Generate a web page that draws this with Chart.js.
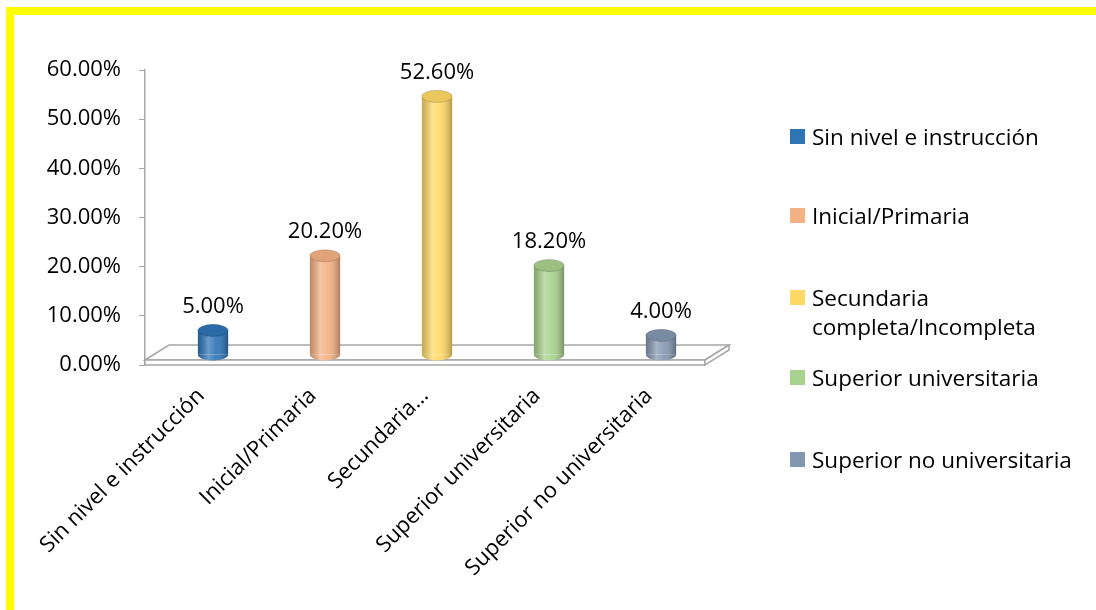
<!DOCTYPE html>
<html>
<head>
<meta charset="utf-8">
<script src="https://cdn.jsdelivr.net/npm/chart.js@4.4.0/dist/chart.umd.min.js"></script>
<style>
  html, body { margin: 0; padding: 0; background: #fff; }
  #wrap { position: relative; width: 1096px; height: 610px; overflow: hidden; font-family: "Open Sans", sans-serif; }
  #frame { position: absolute; left: 6px; top: 7px; width: 1200px; height: 700px;
           border-top: 8px solid #ffff00; border-left: 8px solid #ffff00; box-sizing: border-box; }
  canvas { position: absolute; left: 0; top: 0; }
  .leg { position: absolute; left: 790px; font-size: 22.5px; line-height: 29px; color: #000; white-space: nowrap; }
  .leg span.sw { position: absolute; left: 0; top: 7px; width: 15px; height: 15px; }
  .leg span.tx { display: block; margin-left: 22px; }
</style>
</head>
<body>
<div id="wrap">
  <canvas id="c" width="1096" height="610"></canvas>
  <div id="frame"></div>
</div>
<script>
const categories = ['Sin nivel e instrucción', 'Inicial/Primaria', 'Secundaria completa/Incompleta', 'Superior universitaria', 'Superior no universitaria'];
const values = [5.0, 20.2, 52.6, 18.2, 4.0];
const colors = ['#2e75b6', '#f4b183', '#ffd966', '#a9d18e', '#8497b0'];
const legendLines = [['Sin nivel e instrucción'], ['Inicial/Primaria'], ['Secundaria', 'completa/Incompleta'], ['Superior universitaria'], ['Superior no universitaria']];
const legendTops = [122, 201, 283, 363, 445];

const FONT = '"Open Sans"';
const DX = 12, DY = 10; // depth offset of the bars in the 3D floor

// legend
const wrap = document.getElementById('wrap');
legendLines.forEach((lines, i) => {
  const d = document.createElement('div');
  d.className = 'leg';
  d.style.top = legendTops[i] + 'px';
  d.innerHTML = '<span class="sw" style="background:' + colors[i] + '"></span><span class="tx">' + lines.join('<br>') + '</span>';
  wrap.appendChild(d);
});

const cylinders = {
  id: 'cylinders',
  beforeDatasetsDraw(chart) {
    const { ctx, chartArea: a } = chart;
    const fl = a.left, fr = a.right, fb = a.bottom;
    ctx.save();
    ctx.strokeStyle = '#a6a6a6';
    ctx.lineWidth = 1.5;
    ctx.fillStyle = '#fff';
    // floor slab: top face
    ctx.beginPath();
    ctx.moveTo(fl, fb - 5);
    ctx.lineTo(fl + 2 * DX, fb - 2 * DY);
    ctx.lineTo(fr + 2 * DX, fb - 2 * DY);
    ctx.lineTo(fr, fb - 5);
    ctx.closePath();
    ctx.fill(); ctx.stroke();
    // front face
    ctx.beginPath();
    ctx.rect(fl, fb - 5, fr - fl, 5);
    ctx.fill(); ctx.stroke();
    // right face
    ctx.beginPath();
    ctx.moveTo(fr, fb - 5);
    ctx.lineTo(fr + 2 * DX, fb - 2 * DY);
    ctx.lineTo(fr + 2 * DX, fb - 2 * DY + 5);
    ctx.lineTo(fr, fb);
    ctx.closePath();
    ctx.fill(); ctx.stroke();
    ctx.restore();
    ctx.save();
    ctx.translate(DX, -DY);
  },
  afterDatasetsDraw(chart) {
    const ctx = chart.ctx;
    const meta = chart.getDatasetMeta(0);
    meta.data.forEach((bar, i) => {
      const w = bar.width, x0 = bar.x - w / 2, top = bar.y, base = bar.base, ry = w * 0.2;
      const g = ctx.createLinearGradient(x0, 0, x0 + w, 0);
      g.addColorStop(0, 'rgba(0,0,0,0.22)');
      g.addColorStop(0.35, 'rgba(255,255,255,0.28)');
      g.addColorStop(0.6, 'rgba(255,255,255,0.08)');
      g.addColorStop(1, 'rgba(0,0,0,0.3)');
      // bottom rounding
      ctx.beginPath();
      ctx.ellipse(bar.x, base, w / 2, ry, 0, 0, Math.PI);
      ctx.fillStyle = colors[i]; ctx.fill();
      ctx.fillStyle = g; ctx.fill();
      ctx.fillStyle = g;
      ctx.fillRect(x0, top, w, base - top);
      // top cap
      ctx.beginPath();
      ctx.ellipse(bar.x, top, w / 2, ry, 0, 0, 2 * Math.PI);
      ctx.fillStyle = colors[i]; ctx.fill();
      ctx.fillStyle = 'rgba(0,0,0,0.08)'; ctx.fill();
      ctx.strokeStyle = 'rgba(0,0,0,0.15)'; ctx.lineWidth = 1; ctx.stroke();
    });
    ctx.restore();
    // value labels
    ctx.save();
    ctx.font = '22px ' + FONT;
    ctx.fillStyle = '#000';
    ctx.textAlign = 'center';
    ctx.textBaseline = 'middle';
    meta.data.forEach((bar, i) => {
      ctx.fillText(values[i].toFixed(2) + '%', bar.x + DX, bar.y - DY - 24);
    });
    ctx.restore();
  }
};

new Chart(document.getElementById('c'), {
  type: 'bar',
  data: {
    labels: categories,
    datasets: [{
      data: values,
      backgroundColor: colors,
      borderWidth: 0,
      barPercentage: 0.27,
      categoryPercentage: 1
    }]
  },
  options: {
    responsive: false,
    animation: false,
    layout: { padding: { left: 0, right: 391, top: 70, bottom: 0 } },
    plugins: { legend: { display: false }, tooltip: { enabled: false } },
    scales: {
      x: {
        afterFit: s => { s.height = 245; },
        grid: { display: false },
        border: { display: false },
        ticks: {
          color: '#000',
          font: { family: FONT, size: 22 },
          minRotation: 45, maxRotation: 45,
          padding: 10,
          callback: function (v) {
            const l = this.getLabelForValue(v);
            return l.length > 26 ? l.split(' ')[0] + '…' : l;
          }
        }
      },
      y: {
        min: 0, max: 60,
        afterFit: s => { s.width = 145; },
        border: { color: '#a6a6a6', width: 1.5 },
        grid: { drawOnChartArea: false, drawTicks: true, tickLength: 6, color: '#a6a6a6' },
        ticks: {
          stepSize: 10,
          color: '#000',
          padding: 18,
          font: { family: FONT, size: 22 },
          callback: v => v.toFixed(2) + '%'
        }
      }
    }
  },
  plugins: [cylinders]
});
</script>
</body>
</html>
